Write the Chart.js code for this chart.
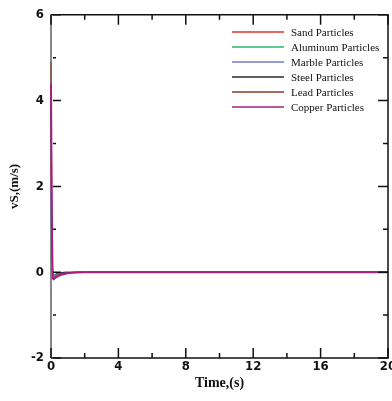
<!DOCTYPE html>
<html>
<head>
<meta charset="utf-8">
<script src="https://cdn.jsdelivr.net/npm/chart.js@4"></script>
<style>
  html, body { margin: 0; padding: 0; background: #fff; }
  #wrap { width: 392px; height: 401px; }
</style>
</head>
<body>
<div id="wrap"><canvas id="vs-chart"></canvas></div>
<script>
// time samples (s) shared by every particle curve
const timeS = [0, 0.05, 0.1, 0.15, 0.2, 0.3, 0.45, 0.6, 0.8, 1.1, 1.5, 2, 4, 8, 20];

const sandVs     = [2.5, 0.9, -0.05, -0.10, -0.09, -0.07, -0.05, -0.035, -0.02, -0.01, -0.005, 0, 0, 0, 0];
const aluminumVs = [1.5, 0.5, -0.06, -0.10, -0.09, -0.07, -0.05, -0.035, -0.02, -0.01, -0.005, 0, 0, 0, 0];
const marbleVs   = [2.0, 0.6, -0.12, -0.18, -0.12, -0.06, -0.03, -0.015, -0.01, -0.005, 0, 0, 0, 0, 0];
const steelVs    = [4.0, 1.2, -0.05, -0.08, -0.06, -0.04, -0.02, -0.01, 0, 0, 0, 0, 0, 0, 0];
const leadVs     = [4.9, 1.6, -0.08, -0.14, -0.12, -0.09, -0.06, -0.04, -0.025, -0.012, -0.005, 0, 0, 0, 0];
const copperVs   = [4.4, 1.3, -0.10, -0.16, -0.15, -0.12, -0.09, -0.06, -0.04, -0.02, -0.008, 0, 0, 0, 0];

const seriesNames = ['Sand Particles', 'Aluminum Particles', 'Marble Particles',
                     'Steel Particles', 'Lead Particles', 'Copper Particles'];
const seriesValues = [sandVs, aluminumVs, marbleVs, steelVs, leadVs, copperVs];
const seriesColors = ['#e3302b', '#2fb56c', '#7479c8', '#2a2a2a', '#8e3b22', '#a5207f'];
const seriesWidths = [1, 1, 1.5, 1, 1, 2];

const xTicks = [0, 4, 8, 12, 16, 20];
const yTicks = [-2, 0, 2, 4, 6];

const tickFont = { family: '"Liberation Sans Narrow", "DejaVu Sans Condensed", "Liberation Sans", sans-serif', size: 13, weight: 'bold' };

// gray left axis goes under the curves
const leftAxis = {
  id: 'leftAxis',
  beforeDatasetsDraw(chart) {
    const { ctx, chartArea: a } = chart;
    ctx.save();
    ctx.strokeStyle = '#888';
    ctx.lineWidth = 2;
    ctx.beginPath();
    ctx.moveTo(a.left, a.top); ctx.lineTo(a.left, a.bottom);
    ctx.stroke();
    ctx.restore();
  }
};

// inward major/minor ticks on all four sides plus the rest of the frame
const frameTicks = {
  id: 'frameTicks',
  afterDraw(chart) {
    const { ctx, chartArea: a, scales: { x, y } } = chart;
    ctx.save();
    ctx.strokeStyle = '#111';
    ctx.lineWidth = 1.5;
    for (let v = 0; v <= 20; v += 2) {
      const px = x.getPixelForValue(v);
      const len = v % 4 === 0 ? 10 : 5;
      ctx.beginPath();
      ctx.moveTo(px, a.bottom); ctx.lineTo(px, a.bottom - len);
      ctx.moveTo(px, a.top); ctx.lineTo(px, a.top + len);
      ctx.stroke();
    }
    for (let v = -2; v <= 6; v += 1) {
      const py = y.getPixelForValue(v);
      const len = v % 2 === 0 ? 10 : 5;
      ctx.beginPath();
      ctx.moveTo(a.left + 2, py); ctx.lineTo(a.left + len, py);
      ctx.moveTo(a.right, py); ctx.lineTo(a.right - len, py);
      ctx.stroke();
    }
    ctx.beginPath();
    ctx.moveTo(a.left, a.top); ctx.lineTo(a.right, a.top);
    ctx.lineTo(a.right, a.bottom); ctx.lineTo(a.left, a.bottom);
    ctx.stroke();
    ctx.restore();
  }
};

// legend inside the plot, top right
const innerLegend = {
  id: 'innerLegend',
  afterDraw(chart) {
    const { ctx } = chart;
    ctx.save();
    ctx.font = '11px "Liberation Serif", serif';
    ctx.textBaseline = 'middle';
    chart.data.datasets.forEach((ds, i) => {
      const yy = 32 + i * 15;
      ctx.strokeStyle = ds.borderColor;
      ctx.lineWidth = 1.5;
      ctx.beginPath();
      ctx.moveTo(232, yy); ctx.lineTo(284, yy);
      ctx.stroke();
      ctx.fillStyle = '#111';
      ctx.fillText(ds.label, 291, yy + 1);
    });
    ctx.restore();
  }
};

// later series are painted over earlier ones, copper on top
const datasets = seriesNames.map((name, i) => ({
  label: name,
  data: timeS.map((t, j) => ({ x: t, y: seriesValues[i][j] })),
  borderColor: seriesColors[i],
  borderWidth: seriesWidths[i],
  order: seriesNames.length - i,
  clip: 4,
  pointRadius: 0,
  tension: 0.2,
  fill: false
}));

new Chart(document.getElementById('vs-chart'), {
  type: 'line',
  data: { datasets },
  options: {
    responsive: true,
    maintainAspectRatio: false,
    animation: false,
    layout: { padding: { top: 14, right: 4, left: 0, bottom: 0 } },
    plugins: { legend: { display: false }, tooltip: { enabled: false } },
    scales: {
      x: {
        type: 'linear',
        min: 0, max: 20,
        afterBuildTicks: s => { s.ticks = xTicks.map(v => ({ value: v })); },
        afterFit: s => { s.height = 43; s.paddingLeft = 0; s.paddingRight = 0; },
        grid: { drawOnChartArea: false, drawTicks: false },
        border: { display: false },
        ticks: { color: '#111', padding: 1, font: tickFont },
        title: {
          display: true, text: 'Time,(s)', color: '#111', padding: { top: 0, bottom: 9 },
          font: { family: '"Liberation Serif", serif', size: 14, weight: 'bold' }
        }
      },
      y: {
        min: -2, max: 6,
        afterBuildTicks: s => { s.ticks = yTicks.map(v => ({ value: v })); },
        afterFit: s => { s.width = 51; },
        grid: { drawOnChartArea: false, drawTicks: false },
        border: { display: false },
        ticks: { color: '#111', padding: 7, font: tickFont },
        title: {
          display: true, text: 'vS,(m/s)', color: '#111', padding: { top: 7, bottom: 0 },
          font: { family: '"Liberation Serif", serif', size: 13, weight: 'bold' }
        }
      }
    }
  },
  plugins: [leftAxis, frameTicks, innerLegend]
});
</script>
</body>
</html>
